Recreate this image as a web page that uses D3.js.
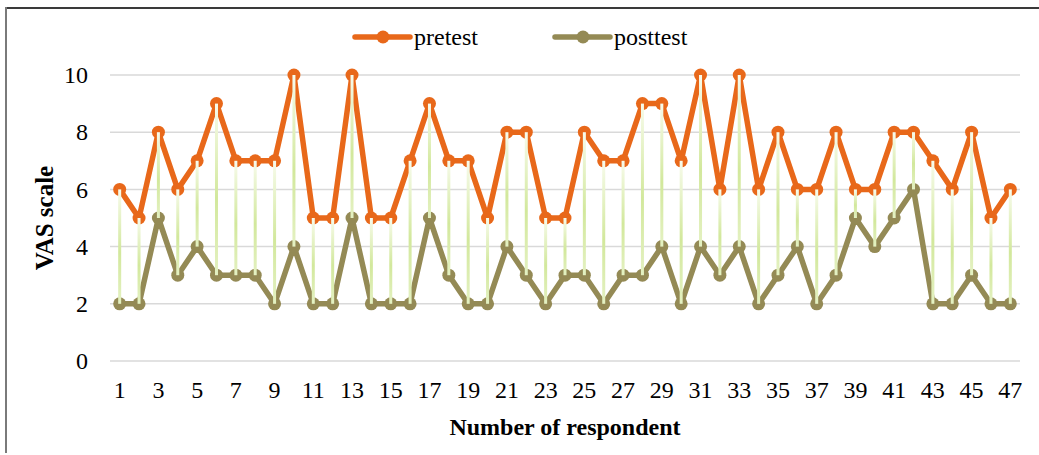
<!DOCTYPE html>
<html>
<head>
<meta charset="utf-8">
<script src="https://cdn.jsdelivr.net/npm/d3@7"></script>
<style>
  html, body { margin: 0; padding: 0; background: #fff; }
  svg { display: block; font-family: "Liberation Serif", "Times New Roman", serif; }
</style>
</head>
<body>
<div id="chart"></div>
<script>
// データ
const respondents = d3.range(1, 48);
const pretest  = [6,5,8,6,7,9,7,7,7,10,5,5,10,5,5,7,9,7,7,5,8,8,5,5,8,7,7,9,9,7,10,6,10,6,8,6,6,8,6,6,8,8,7,6,8,5,6];
const posttest = [2,2,5,3,4,3,3,3,2,4,2,2,5,2,2,2,5,3,2,2,4,3,2,3,3,2,3,3,4,2,4,3,4,2,3,4,2,3,5,4,5,6,2,2,3,2,2];
const yTicks = [0, 2, 4, 6, 8, 10];
const seriesNames = ["pretest", "posttest"];
const seriesColors = ["#e8681a", "#948a55"];

const width = 1039, height = 455;
const margin = { left: 110, right: 19, top: 75, bottom: 94 };

const svg = d3.select('#chart').append('svg')
    .attr('width', width)
    .attr('height', height);

// 外枠
svg.append('line').attr('x1', 6).attr('x2', width).attr('y1', 8).attr('y2', 8)
    .attr('stroke', '#3a3a3a').attr('stroke-width', 2);
svg.append('line').attr('x1', 6).attr('x2', 6).attr('y1', 7).attr('y2', 453)
    .attr('stroke', '#7a7a7a').attr('stroke-width', 2);

// スケール
const x = d3.scaleBand()
    .domain(respondents)
    .range([margin.left, width - margin.right]);
const y = d3.scaleLinear()
    .domain([0, 10])
    .range([height - margin.bottom, margin.top]);
const cx = d => x(d) + x.bandwidth() / 2;

// グリッド線
svg.append('g')
    .selectAll('line')
    .data(yTicks)
    .enter()
    .append('line')
    .attr('x1', margin.left)
    .attr('x2', width - margin.right)
    .attr('y1', d => y(d))
    .attr('y2', d => y(d))
    .attr('stroke', '#d9d9d9')
    .attr('stroke-width', 1.5);

// Y軸ラベル
const yAxis = svg.append('g')
    .attr('transform', `translate(${margin.left - 8},0)`)
    .call(d3.axisLeft(y).tickValues(yTicks).tickSize(0).tickPadding(14));
yAxis.select('.domain').remove();
yAxis.selectAll('text')
    .style('font-family', '"Liberation Serif", serif')
    .style('font-size', '24px')
    .attr('fill', '#000');

// X軸ラベル (奇数のみ)
const xAxis = svg.append('g')
    .attr('transform', `translate(0,${y(0)})`)
    .call(d3.axisBottom(x).tickValues(respondents.filter(d => d % 2 === 1)).tickSize(0).tickPadding(20));
xAxis.select('.domain').remove();
xAxis.selectAll('text')
    .style('font-family', '"Liberation Serif", serif')
    .style('font-size', '24px')
    .attr('fill', '#000');

// 軸タイトル
svg.append('text')
    .attr('transform', `translate(53,${(y(0) + y(10)) / 2}) rotate(-90)`)
    .attr('text-anchor', 'middle')
    .style('font-size', '25px')
    .style('font-weight', 'bold')
    .text('VAS scale');

svg.append('text')
    .attr('x', (margin.left + width - margin.right) / 2)
    .attr('y', 435)
    .attr('text-anchor', 'middle')
    .style('font-size', '24px')
    .style('font-weight', 'bold')
    .text('Number of respondent');

// 高低線用グラデーション
const defs = svg.append('defs');
const grad = defs.append('linearGradient')
    .attr('id', 'dropGrad')
    .attr('x1', 0).attr('y1', 0).attr('x2', 0).attr('y2', 1);
grad.append('stop').attr('offset', '0%').attr('stop-color', '#f7fbec');
grad.append('stop').attr('offset', '55%').attr('stop-color', '#d2e89c');
grad.append('stop').attr('offset', '100%').attr('stop-color', '#e4f1c2');

// 系列の描画
const seriesData = [pretest, posttest];
const line = d3.line()
    .x((v, i) => cx(respondents[i]))
    .y(v => y(v));

[1, 0].forEach(s => {
    const g = svg.append('g');
    g.append('path')
        .datum(seriesData[s])
        .attr('fill', 'none')
        .attr('stroke', seriesColors[s])
        .attr('stroke-width', 5.5)
        .attr('stroke-linejoin', 'round')
        .attr('d', line);
    g.selectAll('circle')
        .data(seriesData[s])
        .enter()
        .append('circle')
        .attr('cx', (v, i) => cx(respondents[i]))
        .attr('cy', v => y(v))
        .attr('r', 6.5)
        .attr('fill', seriesColors[s]);
});

// 高低線 (点の上に重ねる)
svg.append('g')
    .selectAll('rect')
    .data(respondents)
    .enter()
    .append('rect')
    .attr('x', d => cx(d) - 1.5)
    .attr('width', 3)
    .attr('y', (d, i) => y(pretest[i]))
    .attr('height', (d, i) => y(posttest[i]) - y(pretest[i]))
    .attr('fill', 'url(#dropGrad)');

// 凡例
const legendX = [355, 555];
seriesNames.forEach((name, s) => {
    const lg = svg.append('g').attr('transform', `translate(${legendX[s]},37)`);
    lg.append('line')
        .attr('x1', 0).attr('x2', 55)
        .attr('stroke', seriesColors[s])
        .attr('stroke-width', 5.5)
        .attr('stroke-linecap', 'round');
    lg.append('circle')
        .attr('cx', 28).attr('r', 6.5)
        .attr('fill', seriesColors[s]);
    lg.append('text')
        .attr('x', 59)
        .attr('y', 8)
        .style('font-size', '24px')
        .text(name);
});
</script>
</body>
</html>
